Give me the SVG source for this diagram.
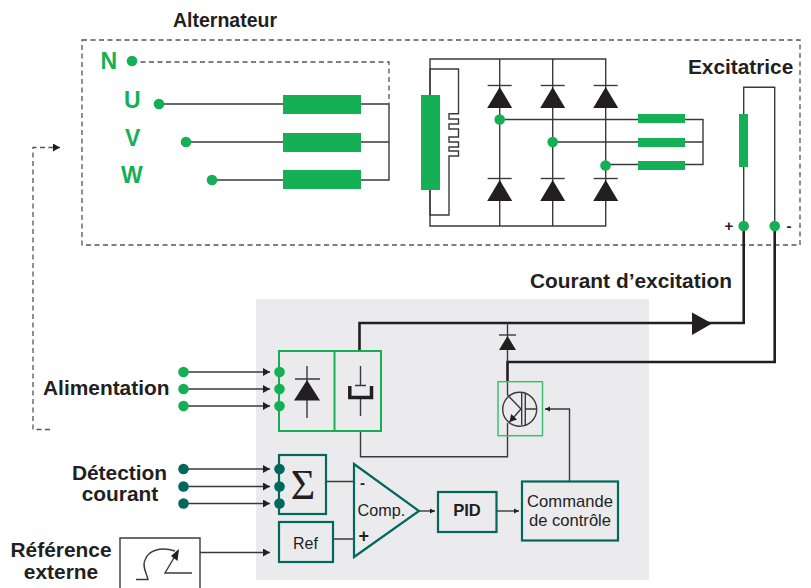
<svg xmlns="http://www.w3.org/2000/svg" width="811" height="588" viewBox="0 0 811 588">
<style>
text{font-family:"Liberation Sans",Arial,sans-serif;fill:#231f20}
.b{font-weight:bold}
.lb{font-weight:bold;font-size:20.9px}
.g{fill:#15b055;font-weight:bold;font-size:23px}
.gb{fill:#15b055}
.tl{fill:#00685c}
.w{fill:none;stroke:#3a3a3a;stroke-width:1.4}
.t{fill:none;stroke:#231f20;stroke-width:2.6}
.d{fill:none;stroke:#555;stroke-width:1.3;stroke-dasharray:5 3.5}
.gs{fill:none;stroke:#15b055;stroke-width:2}
.ts{fill:none;stroke:#00685c;stroke-width:2.2}
.k{fill:#231f20}
.m{text-anchor:middle}
</style>
<defs>
<marker id="a" markerUnits="userSpaceOnUse" markerWidth="8" markerHeight="8" refX="7" refY="4" orient="auto"><path d="M0 0L7 4L0 8z" fill="#231f20"/></marker>
<marker id="s" markerUnits="userSpaceOnUse" markerWidth="6" markerHeight="6" refX="5" refY="3" orient="auto"><path d="M0 0.5L5 3L0 5.5z" fill="#231f20"/></marker>
<g id="dio"><path class="w" d="M-12 -1.5H12"/><path class="k" d="M0 0L12.5 21H-12.5Z"/></g>
</defs>
<rect id="panel" x="256" y="299" width="393" height="281" fill="#ebebed"/>
<g id="connectors">
<path class="d" d="M82 40H800V245H82Z"/>
<path class="d" d="M132 62H389V104"/>
<path class="w" d="M159 104H389M186 142H389M212 180H389V104"/>
<path class="w" d="M430 95V59H605.700V226H430V190M499.700 59V226M552.700 59V226"/>
<path class="w" d="M430 95V69H458.500V113.700H449V119H458.500V124H449V129H458.500V137H449V142H458.500V147H449V151H458.500V156H449V160V215H430V190"/>
<path class="w" d="M499.700 119.500H703V164.500H605.500M552.700 142H703"/>
<path class="w" d="M743.700 226V87.300H774.700V226"/>
<path class="t" d="M743.700 226V323H359.500V350"/>
<path class="t" d="M774.700 226V362H507.500V382"/>
<path class="w" d="M507.500 323V362M507.500 382V395"/>
<path class="w" d="M360.500 431V456.700H507.500V423"/>
<path class="w" marker-end="url(#s)" d="M569.500 481.500V409H545"/>
<path class="w" marker-end="url(#a)" d="M183.500 372H270"/>
<path class="w" marker-end="url(#a)" d="M183.500 389H270"/>
<path class="w" marker-end="url(#a)" d="M183.500 406H270"/>
<path class="w" marker-end="url(#a)" d="M183.500 469H270"/>
<path class="w" marker-end="url(#a)" d="M183.500 486.500H270"/>
<path class="w" marker-end="url(#a)" d="M183.500 503.500H270"/>
<path class="w" marker-end="url(#a)" d="M200 552.500H270"/>
<path class="w" d="M326 481.500H354M333 539H354"/>
<path class="w" marker-end="url(#s)" d="M419 511H435"/>
<path class="w" marker-end="url(#s)" d="M496.500 511H519"/>
<path class="d" marker-end="url(#a)" d="M50 429.500H33V147.500H60"/>
<path class="k" d="M692 312.500L712 323.500L692 335Z"/>
</g>
<g id="alternateur">
<text class="b" x="173" y="27" font-size="19.500">Alternateur</text>
<text class="g" x="100.500" y="69">N</text><circle class="gb" cx="132" cy="61" r="5.300"/>
<text class="g" x="124" y="108">U</text><circle class="gb" cx="159" cy="104" r="5.300"/>
<text class="g" x="125" y="146">V</text><circle class="gb" cx="186" cy="142" r="5.300"/>
<text class="g" x="121" y="183">W</text><circle class="gb" cx="212" cy="180" r="5.300"/>
<rect class="gb" x="283" y="95" width="78" height="19"/>
<rect class="gb" x="283" y="133" width="78" height="19"/>
<rect class="gb" x="283" y="170" width="78" height="19"/>
</g>
<g id="rotor">
<rect class="gb" x="421" y="95" width="19" height="95"/>
<use href="#dio" x="499.700" y="87"/><use href="#dio" x="552.700" y="87"/><use href="#dio" x="605.700" y="87"/>
<use href="#dio" x="499.700" y="180"/><use href="#dio" x="552.700" y="180"/><use href="#dio" x="605.700" y="180"/>
<circle class="gb" cx="499.700" cy="119.500" r="5.300"/><circle class="gb" cx="552.700" cy="142" r="5.300"/><circle class="gb" cx="605.500" cy="165.500" r="5.300"/>
<rect class="gb" x="638" y="114" width="47" height="9"/>
<rect class="gb" x="638" y="138" width="47" height="9"/>
<rect class="gb" x="638" y="161" width="47" height="9"/>
</g>
<g id="excitatrice">
<text class="b" x="688" y="74" font-size="20.800">Excitatrice</text>
<rect class="gb" x="739" y="114" width="9" height="53"/>
<circle class="gb" cx="743.700" cy="226" r="5.300"/><circle class="gb" cx="774.700" cy="226" r="5.300"/>
<text class="b m" x="729" y="231" font-size="15">+</text><text class="b m" x="789" y="231" font-size="15">-</text>
</g>
<text class="lb" x="530" y="288">Courant d’excitation</text>
<g id="alimentation">
<text class="lb" x="43" y="395">Alimentation</text>
<circle class="gb" cx="183.500" cy="372" r="5.300"/><circle class="gb" cx="183.500" cy="389" r="5.300"/><circle class="gb" cx="183.500" cy="406" r="5.300"/>
</g>
<g id="pont">
<rect class="gs" x="279" y="351" width="102" height="80"/>
<path class="gs" d="M334.500 351V431"/>
<circle class="gb" cx="279.500" cy="372" r="5.300"/><circle class="gb" cx="279.500" cy="389" r="5.300"/><circle class="gb" cx="279.500" cy="406" r="5.300"/>
<path class="w" d="M307 366V418M295 379H320"/>
<path class="k" d="M307 380L320 400.500H294Z"/>
<path class="w" d="M360.500 366V386M355 385.500H366M360.500 398V416"/>
<path class="t" style="stroke-width:3.500" d="M349.800 386V397.500H371.500V386"/>
</g>
<g id="transistor">
<rect x="498" y="381.700" width="44.500" height="54" fill="none" stroke="#3cc070" stroke-width="1.500"/>
<circle class="w" cx="519.700" cy="409.300" r="17"/>
<path class="w" d="M521.700 393V425M525.300 393V425M525.300 409H537M507.500 395L521 409"/>
<path class="w" marker-end="url(#a)" d="M521 409L509.500 422"/>
<path class="w" d="M499 335H516"/><path class="k" d="M507.500 336L516 350H499Z"/>
</g>
<g id="detection">
<text class="lb m" x="119.500" y="480">Détection</text>
<text class="lb m" x="120" y="501">courant</text>
<circle class="tl" cx="183.500" cy="469" r="5.300"/><circle class="tl" cx="183.500" cy="486.500" r="5.300"/><circle class="tl" cx="183.500" cy="503.500" r="5.300"/>
</g>
<g id="somme">
<rect class="ts" x="279" y="455" width="47" height="59"/>
<circle class="tl" cx="279.500" cy="469" r="5.300"/><circle class="tl" cx="279.500" cy="486.500" r="5.300"/><circle class="tl" cx="279.500" cy="503.500" r="5.300"/>
<text class="m" x="303" y="499" font-size="42" style="font-family:'Liberation Serif',serif">Σ</text>
</g>
<g id="ref"><rect class="ts" x="279" y="522" width="54" height="40"/><text class="m" x="305.500" y="549" font-size="16">Ref</text></g>
<g id="comp"><path class="ts" d="M354 464L419 511L354 557Z"/><text x="357.500" y="516" font-size="16.200">Comp.</text>
<text class="b" x="360" y="488" font-size="15">-</text><text class="b" x="358.500" y="542" font-size="18">+</text></g>
<g id="pid"><rect class="ts" x="438" y="492" width="58.500" height="40"/><text class="b m" x="467" y="516" font-size="16.600">PID</text></g>
<g id="commande"><rect class="ts" x="522" y="481.500" width="96" height="59"/><text class="m" x="570" y="507" font-size="16.600">Commande</text><text class="m" x="570" y="526" font-size="16.600">de contrôle</text></g>
<g id="externe">
<text class="lb m" x="61" y="557">Référence</text><text class="lb m" x="61" y="579">externe</text>
<path class="w" d="M120 588V538H200V588"/>
<path class="w" d="M136 579.500H148C146 572 142 566 145 560C148 551 160 546 175 551M192 573H165L178 551"/>
<path class="k" d="M179 549L177.500 561L171 556Z"/>
</g>
</svg>
